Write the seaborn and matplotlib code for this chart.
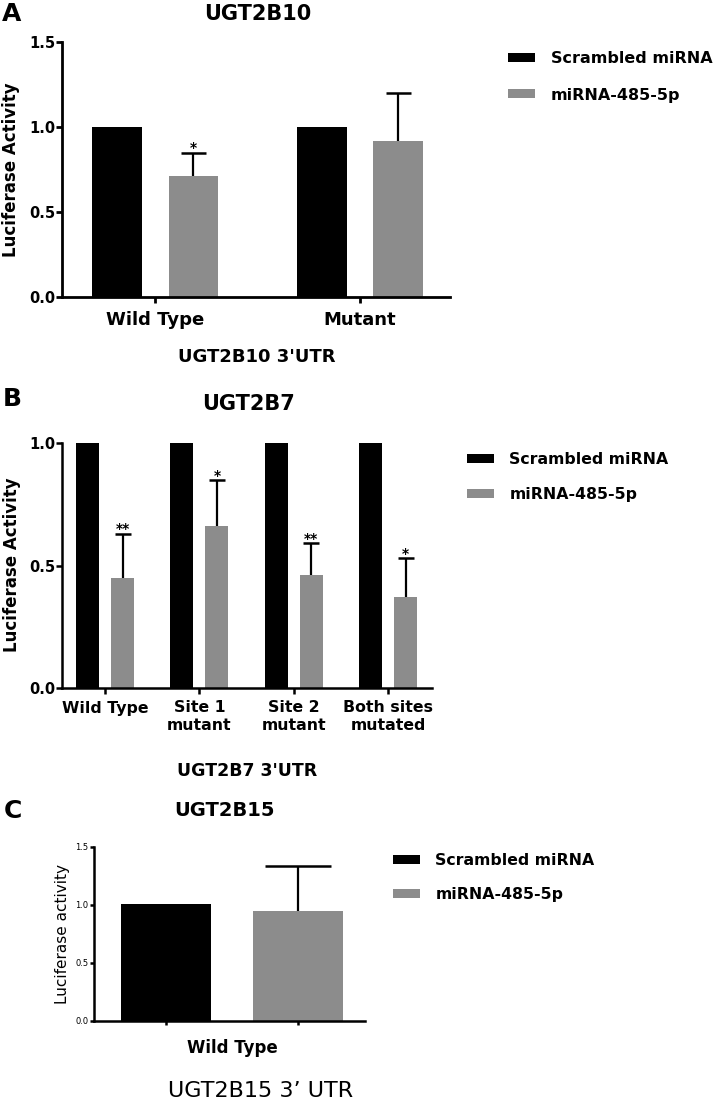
import matplotlib
matplotlib.use("Agg")
import matplotlib.pyplot as plt
import pandas as pd
import seaborn as sns

# %%
TREATMENTS = ["Scrambled miRNA", "miRNA-485-5p"]
COLORS = ["#000000", "#8c8c8c"]

# panel A - UGT2B10
groups_a = ["Wild Type", "Mutant"]
scrambled_a = [1.0, 1.0]
mir_a = [0.71, 0.92]
mir_a_err = [0.14, 0.28]
stars_a = ["*", ""]

# panel B - UGT2B7
groups_b = ["Wild Type", "Site 1\nmutant", "Site 2\nmutant", "Both sites\nmutated"]
scrambled_b = [1.0, 1.0, 1.0, 1.0]
mir_b = [0.45, 0.66, 0.46, 0.37]
mir_b_err = [0.18, 0.19, 0.13, 0.16]
stars_b = ["**", "*", "**", "*"]

# panel C - UGT2B15
values_c = [1.01, 0.95]
errors_c = [0.0, 0.39]

W, H = 714, 1107

sns.set_style("ticks")
plt.rcParams["font.family"] = ["DejaVu Sans"]
plt.rcParams["font.weight"] = "bold"
for key in ["text.color", "axes.labelcolor", "xtick.color", "ytick.color", "axes.edgecolor"]:
    plt.rcParams[key] = "black"


def fx(px):
    return px / W


def fy(py):
    return 1 - py / H


def add_ax(fig, left, right, top, bottom):
    return fig.add_axes([fx(left), fy(bottom), fx(right - left), (bottom - top) / H])


def long_df(groups, scrambled, mir):
    return pd.DataFrame({
        "group": list(groups) * 2,
        "treatment": [TREATMENTS[0]] * len(groups) + [TREATMENTS[1]] * len(groups),
        "value": list(scrambled) + list(mir),
    })


def style_axis(ax, lw, ticklen, tick_fs, bold=True):
    sns.despine(ax=ax)
    for s in ["left", "bottom"]:
        ax.spines[s].set_linewidth(lw)
    ax.tick_params(width=lw, length=ticklen, pad=1, labelsize=tick_fs)
    for lab in ax.get_yticklabels() + ax.get_xticklabels():
        lab.set_fontweight("bold" if bold else "normal")
    ax.set_xlabel("")
    ax.set_ylabel("")


def add_errors(ax, container, err, capsize, stars=None, star_fs=10):
    xs = [b.get_x() + b.get_width() / 2 for b in container]
    ys = [b.get_height() for b in container]
    _, caps, _ = ax.errorbar(xs, ys, yerr=[[0] * len(err), err], fmt="none", ecolor="black",
                             elinewidth=1.6, capsize=capsize, capthick=1.8, clip_on=False)
    caps[0].set_visible(False)  # only the upper cap
    if stars:
        for x, y, e, s in zip(xs, ys, err, stars):
            if s:
                ax.annotate(s, (x, y + e), xytext=(0, -2), textcoords="offset points",
                            ha="center", va="bottom", fontsize=star_fs, fontweight="bold")


def legend(ax, x, y, fs, spacing):
    handles, labels = ax.get_legend_handles_labels()
    ax.legend(handles, labels, loc="upper left", bbox_to_anchor=(fx(x), fy(y)),
              bbox_transform=ax.figure.transFigure, frameon=False, borderpad=0,
              borderaxespad=0, handlelength=1.7, handleheight=0.5, handletextpad=1.0,
              labelspacing=spacing, prop={"size": fs, "weight": "bold"})


fig = plt.figure(figsize=(W / 100, H / 100), dpi=100)

# %% A
ax = add_ax(fig, 62, 450, 42, 297)
sns.barplot(data=long_df(groups_a, scrambled_a, mir_a), x="group", y="value",
            hue="treatment", palette=COLORS, width=0.75, gap=0.35, linewidth=0,
            errorbar=None, ax=ax)
ax.set_ylim(0, 1.5)
ax.set_yticks([0, 0.5, 1.0, 1.5])
ax.set_xlim(-0.454, 1.439)
add_errors(ax, ax.containers[1], mir_a_err, capsize=9, stars=stars_a)
style_axis(ax, 2.0, 4, 10.5)
ax.tick_params(axis="x", labelsize=13, pad=6)
legend(ax, 508, 51, 11.5, 1.35)
fig.text(fx(12), fy(14), "A", fontsize=18, fontweight="bold", ha="center", va="center")
fig.text(fx(258), fy(14), "UGT2B10", fontsize=15, fontweight="bold", ha="center", va="center")
fig.text(fx(257), fy(357), "UGT2B10 3'UTR", fontsize=13, fontweight="bold", ha="center", va="center")
fig.text(fx(11), fy(170), "Luciferase Activity", fontsize=12, fontweight="bold",
         rotation=90, ha="center", va="center")

# %% B
ax = add_ax(fig, 62, 432, 443, 688)
sns.barplot(data=long_df(groups_b, scrambled_b, mir_b), x="group", y="value",
            hue="treatment", palette=COLORS, width=0.745, gap=0.345, linewidth=0,
            errorbar=None, ax=ax)
ax.set_ylim(0, 1.0)
ax.set_yticks([0, 0.5, 1.0])
ax.set_xlim(-0.456, 3.467)
add_errors(ax, ax.containers[1], mir_b_err, capsize=6, stars=stars_b)
style_axis(ax, 1.8, 4, 10.5)
ax.tick_params(axis="x", labelsize=11.3, pad=5)
legend(ax, 467, 452, 11.3, 1.3)
fig.text(fx(12), fy(399), "B", fontsize=18, fontweight="bold", ha="center", va="center")
fig.text(fx(248), fy(404), "UGT2B7", fontsize=15, fontweight="bold", ha="center", va="center")
fig.text(fx(247), fy(771), "UGT2B7 3'UTR", fontsize=12.5, fontweight="bold", ha="center", va="center")
fig.text(fx(12), fy(565), "Luciferase Activity", fontsize=12, fontweight="bold",
         rotation=90, ha="center", va="center")

# %% C
ax = add_ax(fig, 94, 365, 847, 1021)
df_c = pd.DataFrame({"treatment": TREATMENTS, "value": values_c})
sns.barplot(data=df_c, x="treatment", y="value", hue="treatment", palette=COLORS,
            width=0.68, linewidth=0, errorbar=None, legend=True, ax=ax)
ax.set_ylim(0, 1.5)
ax.set_yticks([0, 0.5, 1.0, 1.5])
ax.set_xlim(-0.545, 1.508)
add_errors(ax, ax.patches[1:2], errors_c[1:], capsize=24)
style_axis(ax, 1.8, 3, 6, bold=False)
ax.set_xticks([0, 1])
ax.set_xticklabels(["", ""])
legend(ax, 393, 853, 11.3, 1.2)
fig.text(fx(13), fy(811), "C", fontsize=18, fontweight="bold", ha="center", va="center")
fig.text(fx(225), fy(810), "UGT2B15", fontsize=14, fontweight="bold", ha="center", va="center")
fig.text(fx(232), fy(1048), "Wild Type", fontsize=12, fontweight="bold", ha="center", va="center")
fig.text(fx(261), fy(1091), "UGT2B15 3\u2019 UTR", fontsize=16, fontweight="normal",
         ha="center", va="center")
fig.text(fx(63), fy(934), "Luciferase activity", fontsize=11, fontweight="normal",
         rotation=90, ha="center", va="center")

fig.savefig("out.png", dpi=100)
